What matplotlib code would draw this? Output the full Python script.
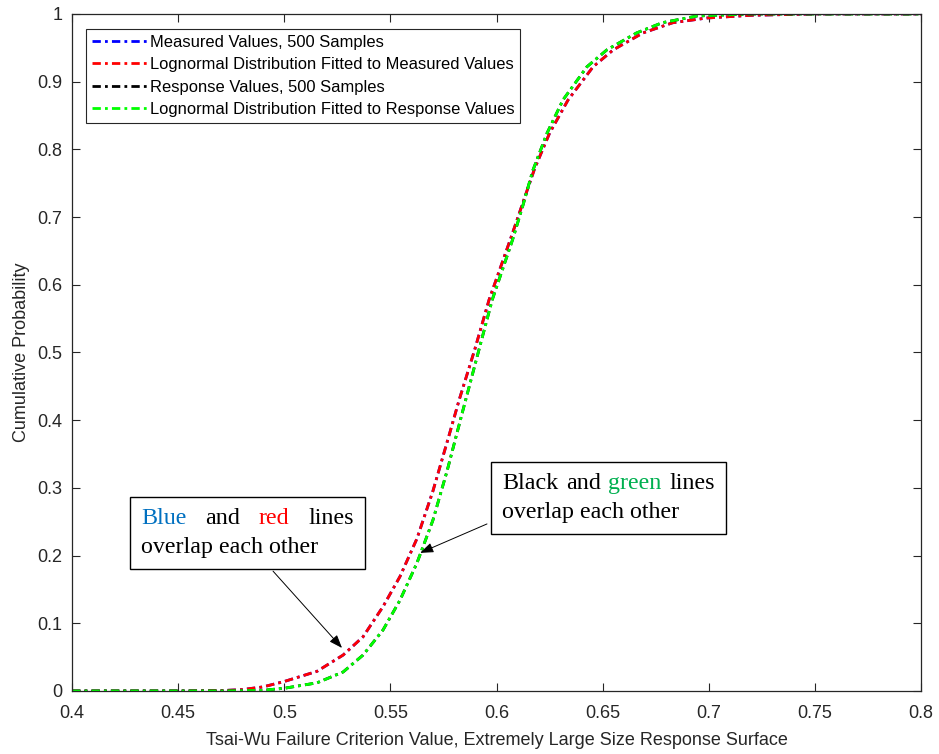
import numpy as np
import matplotlib
matplotlib.use("Agg")
import matplotlib.pyplot as plt
from matplotlib.offsetbox import TextArea, HPacker, VPacker, AnnotationBbox

# values
x_measured = [0.40, 0.45, 0.47, 0.48, 0.49, 0.50, 0.5154, 0.5277, 0.5371, 0.5465, 0.5545,
              0.5625, 0.570, 0.5774, 0.5824, 0.5898, 0.5965, 0.6064, 0.6125, 0.618, 0.625,
              0.6337, 0.6455, 0.655, 0.669, 0.683, 0.699, 0.72, 0.75, 0.80]
cdf_measured = [0.0, 0.0, 0.0005, 0.002, 0.006, 0.014, 0.029, 0.053, 0.080, 0.1245, 0.169,
                0.225, 0.295, 0.375, 0.43, 0.505, 0.578, 0.666, 0.722, 0.772, 0.824,
                0.873, 0.922, 0.947, 0.972, 0.987, 0.994, 0.998, 1.0, 1.0]

x_response = [0.40, 0.45, 0.47, 0.48, 0.49, 0.50, 0.5154, 0.5277, 0.5371, 0.5465, 0.5545,
              0.5625, 0.570, 0.5767, 0.5842, 0.5918, 0.598, 0.6075, 0.6125, 0.617, 0.6238,
              0.6313, 0.6426, 0.652, 0.666, 0.678, 0.6945, 0.72, 0.75, 0.80]
cdf_response = [0.0, 0.0, 0.0, 0.0003, 0.001, 0.004, 0.012, 0.028, 0.053, 0.09, 0.134,
                0.189, 0.252, 0.325, 0.415, 0.505, 0.578, 0.666, 0.718, 0.768, 0.824,
                0.873, 0.922, 0.947, 0.972, 0.987, 0.997, 1.0, 1.0, 1.0]

# the 500-sample curves sit right under the fitted ones
samples_measured = cdf_measured
samples_response = cdf_response

labels = ["Measured Values, 500 Samples",
          "Lognormal Distribution Fitted to Measured Values",
          "Response Values, 500 Samples",
          "Lognormal Distribution Fitted to Response Values"]

gray = "#262626"
plt.rcParams["font.family"] = ["Liberation Sans", "DejaVu Sans"]

fig = plt.figure(figsize=(9.39, 7.54), dpi=100)
ax = fig.add_axes([0.0767, 0.0836, 0.9042, 0.8979])

dd = (0, (3, 1.5, 1, 1.5))
ax.plot(x_measured, samples_measured, color="#0000FF", lw=2, ls=dd, label=labels[0])
ax.plot(x_measured, cdf_measured, color="#FF0000", lw=2, ls=dd, label=labels[1])
ax.plot(x_response, samples_response, color="black", lw=2, ls=dd, label=labels[2])
ax.plot(x_response, cdf_response, color="#00FF00", lw=2, ls=dd, label=labels[3])

ax.set_xlim(0.4, 0.8)
ax.set_ylim(0, 1)
ax.set_xticks(np.arange(0.4, 0.801, 0.05))
ax.set_yticks(np.arange(0, 1.001, 0.1))
ax.set_xticklabels(["0.4", "0.45", "0.5", "0.55", "0.6", "0.65", "0.7", "0.75", "0.8"])
ax.set_yticklabels(["0", "0.1", "0.2", "0.3", "0.4", "0.5", "0.6", "0.7", "0.8", "0.9", "1"])
ax.tick_params(direction="in", length=6, width=0.8, top=True, right=True,
               colors=gray, labelsize=13)
ax.tick_params(axis="x", pad=10)
ax.tick_params(axis="y", pad=7)
for s in ax.spines.values():
    s.set_color(gray)
    s.set_linewidth(0.9)

ax.set_xlabel("Tsai-Wu Failure Criterion Value, Extremely Large Size Response Surface",
              fontsize=13, color=gray, labelpad=7)
ax.set_ylabel("Cumulative Probability", fontsize=13, color=gray, labelpad=5)

leg = ax.legend(loc="upper left", bbox_to_anchor=(0.0165, 0.978), borderaxespad=0,
                fontsize=11.9, handlelength=3.4, handletextpad=0.1, labelspacing=0.45,
                fancybox=False, framealpha=1, edgecolor=gray, borderpad=0.35)
leg.get_frame().set_linewidth(0.8)

# annotation boxes
tp = dict(family="Liberation Serif", size=17.3, color="black")


def word(t, c="black"):
    d = dict(tp)
    d["color"] = c
    return TextArea(t, textprops=d)


frame = dict(edgecolor="black", lw=1, boxstyle="square,pad=0.8")

line1 = HPacker(children=[word("Blue", "#0070C0"), word("and"), word("red", "#FF0000"),
                          word("lines")], sep=13.5, pad=0, align="baseline")
box1 = VPacker(children=[line1, word("overlap each other")], sep=6, pad=0, align="left")
ab1 = AnnotationBbox(box1, (0.4325, 0.2703), xycoords="data", box_alignment=(0, 1),
                     bboxprops=frame)
ax.add_artist(ab1)

line2 = HPacker(children=[word("Black"), word("and"), word("green", "#00B050"),
                          word("lines")], sep=5.5, pad=0, align="baseline")
box2 = VPacker(children=[line2, word("overlap each other")], sep=6, pad=0, align="left")
ab2 = AnnotationBbox(box2, (0.6026, 0.322), xycoords="data", box_alignment=(0, 1),
                     bboxprops=frame)
ax.add_artist(ab2)

arrow = dict(arrowstyle="-|>,head_length=0.8,head_width=0.3", color="black", lw=0.7,
             shrinkA=0, shrinkB=0)
ax.annotate("", xy=(0.5272, 0.0635), xytext=(0.4947, 0.177), arrowprops=arrow)
ax.annotate("", xy=(0.564, 0.204), xytext=(0.5955, 0.2467), arrowprops=arrow)

fig.savefig("out.png", dpi=100)
